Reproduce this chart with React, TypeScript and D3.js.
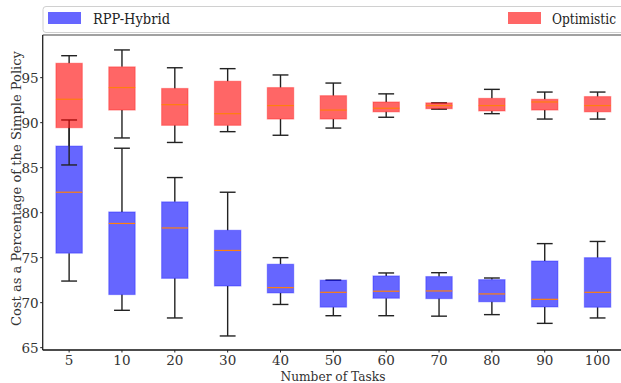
import React from 'react';
import * as d3 from 'd3';

const tasks = ['5', '10', '20', '30', '40', '50', '60', '70', '80', '90', '100'];

// RPP-Hybrid (blue)
const hybridLow = [72.4, 69.15, 68.3, 66.3, 69.8, 68.55, 68.55, 68.5, 68.67, 67.7, 68.3];
const hybridQ1 = [75.5, 70.9, 72.7, 71.85, 71.08, 69.5, 70.49, 70.45, 70.1, 69.52, 69.49];
const hybridMed = [82.27, 78.8, 78.3, 75.8, 71.67, 71.15, 71.27, 71.3, 70.97, 70.37, 71.15];
const hybridQ3 = [87.4, 80.08, 81.2, 78.04, 74.27, 72.5, 72.97, 72.9, 72.56, 74.63, 75.0];
const hybridHigh = [90.3, 87.16, 83.9, 82.27, 75.0, 72.5, 73.3, 73.33, 72.74, 76.56, 76.8];

// Optimistic (red)
const optLow = [85.3, 88.3, 87.8, 89.0, 88.6, 89.4, 90.6, 91.5, 91.0, 90.4, 90.4];
const optQ1 = [89.44, 91.4, 89.7, 89.7, 90.4, 90.4, 91.2, 91.55, 91.3, 91.4, 91.2];
const optMed = [92.6, 93.9, 92.0, 91.0, 91.9, 91.4, 91.6, 91.9, 91.9, 92.3, 91.9];
const optQ3 = [96.6, 96.2, 93.8, 94.6, 93.9, 93.0, 92.3, 92.2, 92.7, 92.6, 92.9];
const optHigh = [97.44, 98.08, 96.1, 96.0, 95.3, 94.4, 93.2, 92.2, 93.7, 93.4, 93.4];

const yTicks = [65, 70, 75, 80, 85, 90, 95];

const W = 621;
const H = 383;
const margin = { left: 42.7, right: -3, top: 35, bottom: 33 };
const font = 'DejaVu Serif';

const x = d3.scaleLinear()
  .domain([0.5, 11.5])
  .range([margin.left, W - margin.right]);
const y = d3.scaleLinear()
  .domain([64.74, 99.74])
  .range([H - margin.bottom, margin.top]);

const boxW = x(1.5) - x(1);
const capW = boxW * 0.6;

interface SeriesProps {
  low: number[];
  q1: number[];
  med: number[];
  q3: number[];
  high: number[];
  color: string;
}

const BoxSeries: React.FC<SeriesProps> = ({ low, q1, med, q3, high, color }) => (
  <g>
    {tasks.map((t, i) => {
      const cx = x(i + 1);
      return (
        <g key={t}>
          <line x1={cx} x2={cx} y1={y(q1[i])} y2={y(low[i])} stroke="#222" strokeWidth={1.4} />
          <line x1={cx} x2={cx} y1={y(q3[i])} y2={y(high[i])} stroke="#222" strokeWidth={1.4} />
          <line x1={cx - capW / 2} x2={cx + capW / 2} y1={y(low[i])} y2={y(low[i])} stroke="#222" strokeWidth={1.4} />
          <line x1={cx - capW / 2} x2={cx + capW / 2} y1={y(high[i])} y2={y(high[i])} stroke="#222" strokeWidth={1.4} />
          <rect
            x={cx - boxW / 2}
            y={y(q3[i])}
            width={boxW}
            height={y(q1[i]) - y(q3[i])}
            fill={color}
            fillOpacity={0.6}
            stroke={color}
            strokeOpacity={0.3}
            strokeWidth={1.2}
          />
          <line x1={cx - boxW / 2} x2={cx + boxW / 2} y1={y(med[i])} y2={y(med[i])} stroke="#ff7f0e" strokeWidth={1.2} />
        </g>
      );
    })}
  </g>
);

export default function App() {
  const bottom = H - margin.bottom;
  return (
    <svg width={W} height={H} style={{ position: 'absolute', left: 0, top: 0, background: '#fff' }}>
      {/* legend */}
      <rect x={43} y={6.5} width={W - 40} height={26} rx={3} fill="#fff" stroke="#d0d0d0" strokeWidth={1} />
      <rect x={48} y={12} width={33} height={12} fill="blue" fillOpacity={0.6} />
      <text x={93} y={24} fontFamily={font} fontSize={14} fill="#222" textLength={77} lengthAdjust="spacingAndGlyphs">RPP-Hybrid</text>
      <rect x={508} y={12} width={33} height={12} fill="red" fillOpacity={0.6} />
      <text x={552} y={24} fontFamily={font} fontSize={14} fill="#222" textLength={64} lengthAdjust="spacingAndGlyphs">Optimistic</text>

      {/* spines */}
      <line x1={margin.left} x2={W} y1={margin.top} y2={margin.top} stroke="#444" strokeWidth={1.2} />
      <line x1={margin.left} x2={margin.left} y1={margin.top} y2={bottom} stroke="#222" strokeWidth={1.3} />
      <line x1={margin.left} x2={W} y1={bottom} y2={bottom} stroke="#111" strokeWidth={1.3} />

      {yTicks.map((v) => (
        <g key={v}>
          <line x1={margin.left - 2.5} x2={margin.left} y1={y(v)} y2={y(v)} stroke="#222" />
          <text x={margin.left - 4} y={y(v) + 5} textAnchor="end" fontFamily={font} fontSize={13.5} fill="#333">{v}</text>
        </g>
      ))}
      {tasks.map((t, i) => (
        <g key={t}>
          <line x1={x(i + 1)} x2={x(i + 1)} y1={bottom} y2={bottom + 2.5} stroke="#222" />
          <text x={x(i + 1)} y={bottom + 15} textAnchor="middle" fontFamily={font} fontSize={13.5} fill="#333">{t}</text>
        </g>
      ))}

      <BoxSeries low={hybridLow} q1={hybridQ1} med={hybridMed} q3={hybridQ3} high={hybridHigh} color="blue" />
      <BoxSeries low={optLow} q1={optQ1} med={optMed} q3={optQ3} high={optHigh} color="red" />

      <text x={333} y={381} textAnchor="middle" fontFamily={font} fontSize={13.5} fill="#333" textLength={105} lengthAdjust="spacingAndGlyphs">Number of Tasks</text>
      <text
        transform={`translate(21,${(margin.top + bottom) / 2 - 4}) rotate(-90)`}
        textAnchor="middle"
        fontFamily={font}
        fontSize={13.5}
        fill="#333"
        textLength={275}
        lengthAdjust="spacingAndGlyphs"
      >
        Cost as a Percentage of the Simple Policy
      </text>
    </svg>
  );
}
